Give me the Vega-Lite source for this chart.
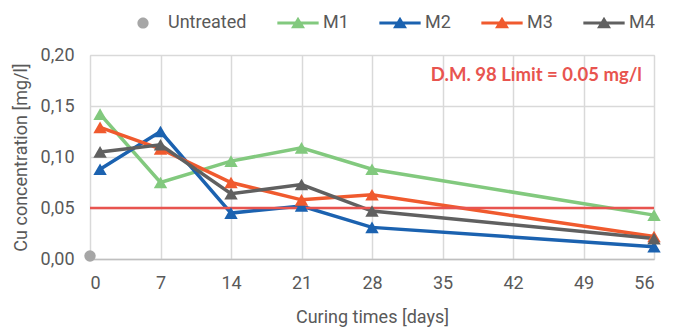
{
  "$schema": "https://vega.github.io/schema/vega-lite/v6.json",
  "width": 564,
  "height": 204,
  "autosize": {"type": "none"},
  "padding": {"left": 90, "top": 55, "right": 26, "bottom": 70},
  "background": "white",
  "datasets": {
    "main": [
      {"series": "Untreated", "day": 0, "value": 0.003},
      {"series": "M1", "day": 1, "value": 0.142},
      {"series": "M1", "day": 7, "value": 0.075},
      {"series": "M1", "day": 14, "value": 0.096},
      {"series": "M1", "day": 21, "value": 0.109},
      {"series": "M1", "day": 28, "value": 0.088},
      {"series": "M1", "day": 56, "value": 0.043},
      {"series": "M2", "day": 1, "value": 0.088},
      {"series": "M2", "day": 7, "value": 0.125},
      {"series": "M2", "day": 14, "value": 0.045},
      {"series": "M2", "day": 21, "value": 0.052},
      {"series": "M2", "day": 28, "value": 0.031},
      {"series": "M2", "day": 56, "value": 0.012},
      {"series": "M3", "day": 1, "value": 0.129},
      {"series": "M3", "day": 7, "value": 0.108},
      {"series": "M3", "day": 14, "value": 0.075},
      {"series": "M3", "day": 21, "value": 0.058},
      {"series": "M3", "day": 28, "value": 0.063},
      {"series": "M3", "day": 56, "value": 0.022},
      {"series": "M4", "day": 1, "value": 0.105},
      {"series": "M4", "day": 7, "value": 0.112},
      {"series": "M4", "day": 14, "value": 0.064},
      {"series": "M4", "day": 21, "value": 0.073},
      {"series": "M4", "day": 28, "value": 0.047},
      {"series": "M4", "day": 56, "value": 0.020}
    ],
    "limit": [{"limit": 0.05, "label": "D.M. 98 Limit = 0.05 mg/l", "lx": 54.8, "ly": 0.18}]
  },
  "layer": [
    {
      "data": {"name": "main"},
      "transform": [{"filter": "datum.series != 'Untreated'"}],
      "mark": {"type": "line", "strokeWidth": 3.5},
      "encoding": {
        "x": {
          "field": "day", "type": "quantitative",
          "scale": {"domain": [0, 56], "nice": false, "zero": false},
          "axis": {"values": [0, 7, 14, 21, 28, 35, 42, 49, 56], "title": "Curing times [days]", "titlePadding": 16}
        },
        "y": {
          "field": "value", "type": "quantitative",
          "scale": {"domain": [0, 0.2], "nice": false},
          "axis": {"values": [0, 0.05, 0.1, 0.15, 0.2], "labelExpr": "replace(format(datum.value, '.2f'), '.', ',')", "title": "Cu concentration [mg/l]", "titlePadding": 10}
        },
        "color": {"field": "series", "type": "nominal", "scale": {"domain": ["M1", "M2", "M3", "M4"], "range": ["#82C97E", "#1B62B0", "#F05A2E", "#606060"]}, "legend": null}
      }
    },
    {
      "data": {"name": "limit"},
      "mark": {"type": "rule", "color": "#E8544F", "strokeWidth": 2.5},
      "encoding": {"y": {"field": "limit", "type": "quantitative"}}
    },
    {
      "data": {"name": "limit"},
      "mark": {"type": "text", "font": "Lato", "fontWeight": "bold", "fontSize": 18.5, "color": "#E8544F", "align": "right", "baseline": "middle"},
      "encoding": {
        "x": {"field": "lx", "type": "quantitative"},
        "y": {"field": "ly", "type": "quantitative"},
        "text": {"field": "label", "type": "nominal"}
      }
    },
    {
      "data": {"name": "main"},
      "transform": [{"filter": "datum.series != 'Untreated'"}],
      "mark": {"type": "point", "shape": "triangle-up", "filled": true, "opacity": 1, "size": 180},
      "encoding": {
        "x": {"field": "day", "type": "quantitative"},
        "y": {"field": "value", "type": "quantitative"},
        "color": {"field": "series", "type": "nominal", "legend": null}
      }
    },
    {
      "data": {"name": "main"},
      "transform": [{"filter": "datum.series == 'Untreated'"}],
      "mark": {"type": "point", "shape": "circle", "filled": true, "opacity": 1, "size": 130, "color": "#A6A6A6"},
      "encoding": {
        "x": {"field": "day", "type": "quantitative"},
        "y": {"field": "value", "type": "quantitative"}
      }
    },
    {
      "data": {"name": "main"},
      "transform": [{"filter": "datum.day < 0"}],
      "mark": {"type": "point", "filled": true, "opacity": 1},
      "encoding": {
        "x": {"field": "day", "type": "quantitative"},
        "y": {"field": "value", "type": "quantitative"},
        "fill": {"field": "series", "type": "nominal", "scale": {"domain": ["Untreated", "M1", "M2", "M3", "M4"], "range": ["#A6A6A6", "#82C97E", "#1B62B0", "#F05A2E", "#606060"]}, "legend": {"title": null}},
        "shape": {"field": "series", "type": "nominal", "scale": {"domain": ["Untreated", "M1", "M2", "M3", "M4"], "range": ["M-0.8,0a0.8,0.8 0 1,0 1.6,0a0.8,0.8 0 1,0 -1.6,0Z", "M-2.95,-0.2H2.95V0.2H-2.95Z M0,-0.9L1,0.75H-1Z", "M-2.95,-0.2H2.95V0.2H-2.95Z M0,-0.9L1,0.75H-1Z", "M-2.95,-0.2H2.95V0.2H-2.95Z M0,-0.9L1,0.75H-1Z", "M-2.95,-0.2H2.95V0.2H-2.95Z M0,-0.9L1,0.75H-1Z"]}, "legend": {"title": null}}
      }
    }
  ],
  "config": {
    "view": {"stroke": "#D9D9D9", "strokeWidth": 1},
    "axis": {
      "labelFont": "Roboto", "labelFontSize": 18, "labelColor": "#595959",
      "titleFont": "Roboto", "titleFontSize": 18, "titleColor": "#595959", "titleFontWeight": "normal",
      "gridColor": "#D9D9D9", "gridWidth": 1.5, "domainColor": "#BFBFBF", "domainWidth": 1.5, "ticks": false, "labelPadding": 15
    },
    "axisY": {"labelPadding": 16, "domain": false},
    "legend": {
      "orient": "none", "legendX": 44, "legendY": -41, "direction": "horizontal", "gridAlign": "none",
      "labelFont": "Roboto", "labelFontSize": 18, "labelColor": "#595959",
      "symbolSize": 196, "labelOffset": 16, "columnPadding": 30, "symbolStrokeWidth": 0
    }
  }
}
